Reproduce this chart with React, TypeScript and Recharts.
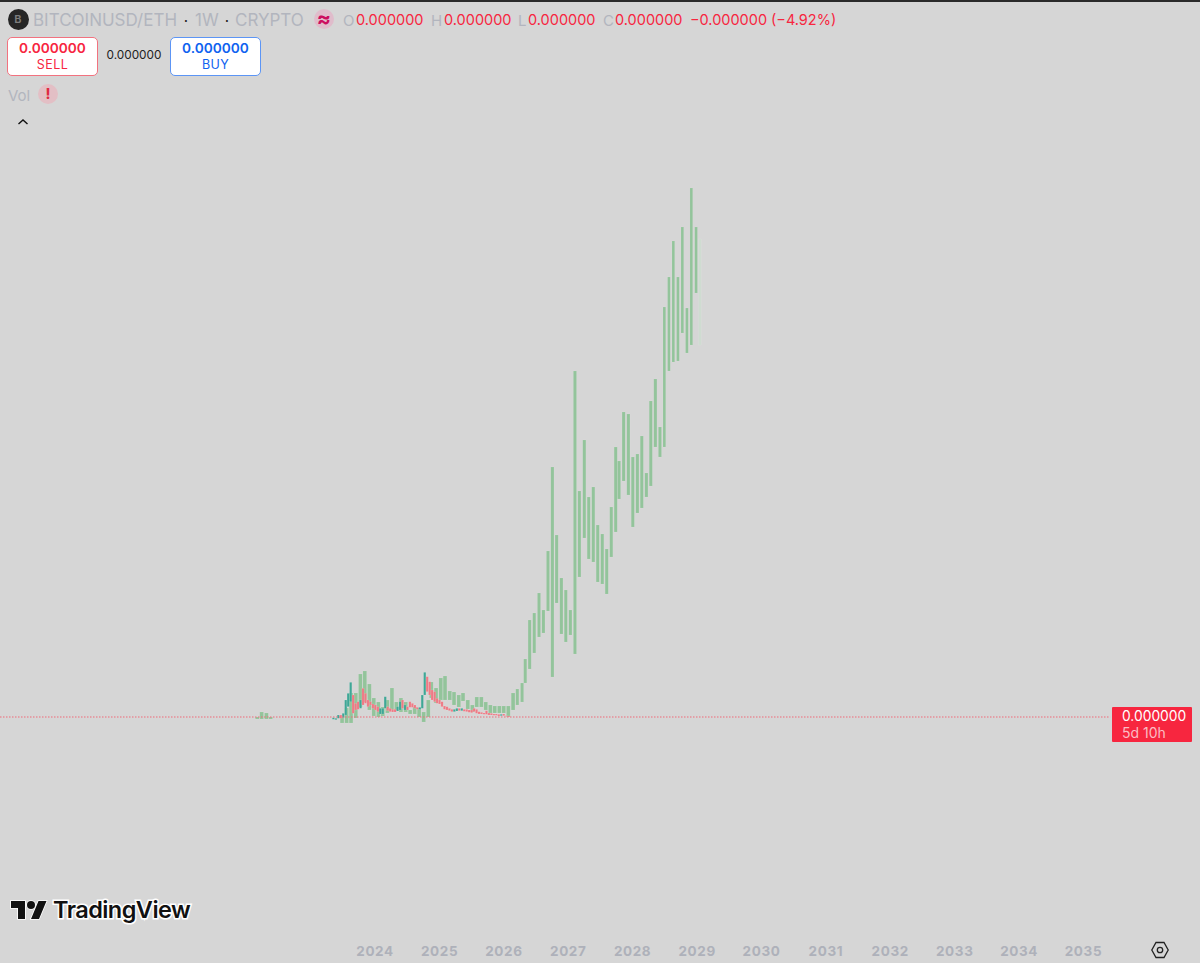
import React from "react";
import { ComposedChart, Bar, XAxis, YAxis, ReferenceLine } from "recharts";

// Dates are days since 2024-01-01, prices are in units of 1e-9 ETH.
const yearLabels = ["2024","2025","2026","2027","2028","2029","2030","2031","2032","2033","2034","2035"];
const yearStartDays = [0,366,731,1096,1461,1827,2192,2557,2922,3288,3653,4018];

const periodDays = [-668,-643,-616,-592,-187,-161,-136,-109,-83,-58,-32,-7,19,44,70,96,121,147,174,199,225,250,276,302,319,346,373,397,424,448,475,499,526,552,577,603,628,654,679,705,730,756,783,807,834,852,877,903,930,955,981,1006,1030,1057,1082,1108,1134,1159,1187,1212,1238,1263,1289,1314,1340,1365,1384,1410,1437,1462,1488,1513,1539,1564,1590,1616,1641,1667,1692,1718,1743,1769,1794,1821,1843];
const periodLow = [-2,-2,-2,-2,-6,-6,-6,-1,10,15,7,1,0,1,4,7,7,5,5,3,3,0,-5,0,19,14,17,17,17,12,10,16,8,5,10,10,7,4,4,4,4,0,7,12,15,34,48,64,80,84,106,40,114,83,75,82,63,140,179,158,155,135,133,123,160,185,218,236,222,190,204,209,220,231,270,260,270,346,355,356,384,364,372,424,372];
const periodHigh = [0,5,4,0,0,9,24,24,43,46,33,19,15,10,17,29,15,19,15,7,10,9,5,17,35,29,39,41,26,25,22,24,17,12,20,20,15,12,11,11,11,11,24,28,34,58,97,104,124,107,166,250,182,139,127,107,346,226,277,220,230,192,183,168,210,270,256,305,303,260,263,281,244,316,338,290,410,440,476,440,490,409,529,490,478];

const candleFirstDay = -236;
const candleStepDays = 14;
const candleLow = [-2.3,-2.7,-1.3,-1.3,-0.7,2,10.3,15.3,3.7,7,7.7,8.7,12,13.7,10.3,12,8.7,7,5.3,3,3,8.7,6.3,5.3,5,5,6,7,8.7,7,7,9.7,9.7,8.7,7.7,7.7,8.7,22,25.3,22,17,15.3,13.7,13,10.3,7.7,7,6.3,5.3,5.3,6,6.3,6.3,5.7,5.3,4.7,4.3,5.3,3.7,3,3,2.7,2.7,2,2,1.7,1.7,1,1.3,1.3,0.7,0];
const candleHigh = [-0.7,-1.3,2,2,3.7,17,23.7,34.7,22,13.7,15.3,17,28.7,23.7,17,15.3,13,12,10.3,8.7,8.7,20.3,10.3,8.7,7.7,7.7,10.3,15.3,17,12,10.3,15.3,13.7,12,9.7,9.7,22,44.7,40.3,35.3,27,25.3,18.7,17,15.3,11,10.3,8.7,7.7,7.7,8.7,8.7,8.7,7.7,7.7,7,7,8.7,7.7,5.3,4.7,4,6.3,4,3.7,3,3,2.7,2.7,3,1.3,1];
const candleRising = [1,1,1,0,1,1,1,1,0,0,0,1,0,0,0,0,0,0,0,1,1,1,0,0,0,0,1,1,0,1,0,0,0,0,0,1,1,1,0,0,0,0,0,0,0,0,0,0,0,1,1,0,1,0,0,0,0,0,0,0,0,0,0,0,0,0,0,0,1,0,0,0];

const rows: any[] = [
  ...periodDays.map((day, i) => ({ day, period: [periodLow[i], periodHigh[i]], fill: i === periodDays.length - 1 ? "#cfdcd1" : "#93c49b" })),
  ...candleLow.map((low, i) => ({ day: candleFirstDay + i * candleStepDays, candle: [low, candleHigh[i]], fill: candleRising[i] ? "#3fa796" : "#ee7a85" })),
];

const bg = "#d6d6d6";
const gray = "#b2b5be";
const red = "#f7263f";
const blue = "#0f62f0";

const periodWidth = (day: number) => (day < 800 ? 3.7 : day < 1640 ? 3.1 : 2.7);

const barShape = (w: (day: number) => number, halo: string) => (p: any) => {
  if (!p.payload || p.height == null || !isFinite(p.y)) return <g />;
  const top = Math.min(p.y, p.y + p.height);
  const bw = w(p.payload.day);
  return <rect x={p.x + p.width / 2 - bw / 2} y={top} width={bw} height={Math.abs(p.height)} fill={p.payload.fill} stroke={halo} strokeWidth={0.6} />;
};

function T({ x, y, size = 15, color = "#000", weight = 400, center = false, spacing = 0, children }: any) {
  return (
    <div style={{ position: "absolute", left: x, top: y, fontSize: size, color, fontWeight: weight, letterSpacing: spacing, whiteSpace: "nowrap", lineHeight: 1, transform: `translate(${center ? "-50%" : "0"},-50%)` }}>
      {children}
    </div>
  );
}

function Box({ x, y, w, h, border, fill = "#fff", radius = 5 }: any) {
  return <div style={{ position: "absolute", left: x, top: y, width: w, height: h, boxSizing: "border-box", border: `1px solid ${border}`, background: fill, borderRadius: radius }} />;
}

function Dot({ x, y, r, fill }: any) {
  return <div style={{ position: "absolute", left: x - r, top: y - r, width: r * 2, height: r * 2, borderRadius: "50%", background: fill }} />;
}

export default function App() {
  return (
    <div style={{ position: "absolute", left: 0, top: 0, width: 1200, height: 963, background: bg, overflow: "hidden", fontFamily: "Inter, 'Noto Sans', sans-serif" }}>
      <ComposedChart width={1200} height={963} data={rows} margin={{ top: 0, right: 0, bottom: 0, left: 0 }} style={{ position: "absolute", left: 0, top: 0 }}>
        <XAxis
          xAxisId="t" type="number" dataKey="day" domain={[-2127, 4679]} allowDataOverflow
          ticks={yearStartDays} interval={0} height={24} axisLine={false} tickLine={false} tickMargin={1}
          tickFormatter={(d: number) => yearLabels[yearStartDays.indexOf(d)]}
          tick={{ fill: "#aeb1ba", fontSize: 13.5, fontWeight: 700, letterSpacing: 0.6, fontFamily: "Inter" }}
        />
        <XAxis xAxisId="c" orientation="top" type="number" dataKey="day" domain={[-2127, 4679]} allowDataOverflow hide height={0} />
        <YAxis type="number" domain={[-222, 717]} allowDataOverflow hide />
        <Bar xAxisId="t" dataKey="period" shape={barShape(periodWidth, "rgba(255,255,255,0.12)")} isAnimationActive={false} />
        <Bar xAxisId="c" dataKey="candle" shape={barShape(() => 2.3, "rgba(255,255,255,0.18)")} isAnimationActive={false} />
        <ReferenceLine xAxisId="t" segment={[{ x: -2127, y: 0 }, { x: 4169, y: 0 }]} stroke="#ef6a78" strokeWidth={1} strokeDasharray="1.5 1.5" />
      </ComposedChart>

      <div style={{ position: "absolute", left: 0, top: 0, width: 1200, height: 1.5, background: "#2a2a2a" }} />
      <Dot x={18} y={19} r={10.5} fill="#262626" />
      <T x={18} y={19} size={11} color="#7d7d7d" weight={600} center>B</T>
      <T x={33} y={20} size={17} color={gray}>BITCOINUSD/ETH</T>
      <T x={186} y={20} size={15} color="#222" center>·</T>
      <T x={195} y={20} size={17} color={gray}>1W</T>
      <T x={227} y={20} size={15} color="#222" center>·</T>
      <T x={235} y={20} size={17} color={gray}>CRYPTO</T>
      <Dot x={324} y={19} r={10} fill="#e0bccb" />
      <T x={324} y={18} size={21} color="#cc0e5f" weight={700} center>≈</T>
      <T x={343} y={20} size={15} color={gray}>O</T>
      <T x={356} y={20} size={14.5} color={red}>0.000000</T>
      <T x={431} y={20} size={15} color={gray}>H</T>
      <T x={444} y={20} size={14.5} color={red}>0.000000</T>
      <T x={518} y={20} size={15} color={gray}>L</T>
      <T x={528} y={20} size={14.5} color={red}>0.000000</T>
      <T x={603} y={20} size={15} color={gray}>C</T>
      <T x={615} y={20} size={14.5} color={red}>0.000000</T>
      <T x={690} y={20} size={14.5} color={red}>−0.000000</T>
      <T x={771} y={20} size={14.5} color={red}>(−4.92%)</T>

      <Box x={7} y={37} w={91} h={39} border="#f2727f" />
      <T x={52.5} y={48.5} size={13.7} color={red} weight={600} center>0.000000</T>
      <T x={52.5} y={64.5} size={12.5} color={red} center spacing={0.4}>SELL</T>
      <T x={134} y={56} size={11.8} color="#222" center>0.000000</T>
      <Box x={170} y={37} w={91} h={39} border="#5c95f5" />
      <T x={215.5} y={48.5} size={13.7} color={blue} weight={600} center>0.000000</T>
      <T x={215.5} y={64.5} size={12.5} color={blue} center spacing={0.4}>BUY</T>

      <T x={8} y={94.5} size={15} color={gray}>Vol</T>
      <Dot x={48} y={94} r={10} fill="#e3bfc5" />
      <T x={48} y={94} size={14} color="#e02a42" weight={800} center>!</T>
      <svg style={{ position: "absolute", left: 16, top: 117 }} width={14} height={10} viewBox="0 0 14 10">
        <path d="M2.5 7 L7 3 L11.5 7" fill="none" stroke="#111" strokeWidth={1.4} />
      </svg>

      <svg style={{ position: "absolute", left: 10, top: 898 }} width={38} height={26} viewBox="0 0 38 26">
        <g transform="translate(1,-1)" fill="#111" stroke="#fff" strokeWidth={1.6} style={{ paintOrder: "stroke" }}>
          <path d="M14 22H7V11H0V4h14v18zM28 22h-8l7.5-18h8L28 22z" />
          <circle cx="20" cy="8" r="4" />
        </g>
      </svg>
      <div style={{ position: "absolute", left: 53, top: 910, transform: "translateY(-50%)", fontSize: 23.5, fontWeight: 600, lineHeight: 1, letterSpacing: -0.55, color: "#111", WebkitTextStroke: "3px #fff", paintOrder: "stroke fill", whiteSpace: "nowrap" }}>TradingView</div>

      <div style={{ position: "absolute", left: 1112, top: 707, width: 80, height: 35, background: "#f7263f", borderRadius: 1 }} />
      <T x={1122} y={717} size={13.8} color="#fff">0.000000</T>
      <T x={1122} y={733} size={14} color="#fbbcc3">5d 10h</T>

      <svg style={{ position: "absolute", left: 1150, top: 940 }} width={20} height={20} viewBox="0 0 20 20">
        <path d="M6 2.5 H14 L18.2 10 L14 17.5 H6 L1.8 10 Z" fill="none" stroke="#222" strokeWidth={1.3} />
        <circle cx="10" cy="10" r="2.7" fill="none" stroke="#222" strokeWidth={1.3} />
      </svg>
    </div>
  );
}
